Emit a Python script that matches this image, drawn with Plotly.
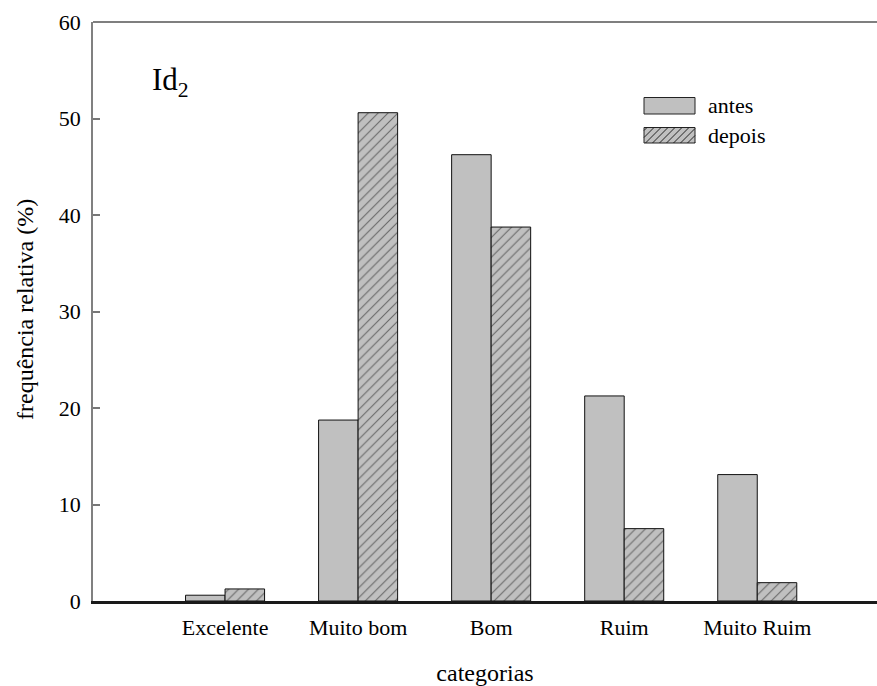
import plotly.graph_objects as go

# Relative frequency (%) per category, before and after
categorias = ["Excelente", "Muito bom", "Bom", "Ruim", "Muito Ruim"]
antes = [0.6, 18.75, 46.25, 21.25, 13.1]
depois = [1.25, 50.6, 38.75, 7.5, 1.9]
y_ticks = [0, 10, 20, 30, 40, 50, 60]

FONT = "Liberation Serif"
GRAY = "#c0c0c0"
W, H = 877, 686
ML, MR, MT, MB = 93, 0, 22, 85
PW, PH = W - ML - MR, H - MT - MB
TICK_SIZE = 22
TITLE_SIZE = 24

xpos = list(range(1, len(categorias) + 1))

fig = go.Figure()
fig.add_trace(go.Bar(
    x=xpos, y=antes, name="antes",
    marker=dict(color=GRAY, line=dict(color="#111", width=1)),
    showlegend=False,
))
fig.add_trace(go.Bar(
    x=xpos, y=depois, name="depois",
    marker=dict(color=GRAY, line=dict(color="#111", width=1),
                pattern=dict(shape="/", fgcolor="#111", bgcolor=GRAY,
                             size=7, solidity=0.16)),
    showlegend=False,
))


def px_to_paper(px, py):
    return (px - ML) / PW, (MT + PH - py) / PH


shapes = []
# top frame line
shapes.append(dict(type="line", xref="paper", yref="paper", x0=0, x1=1, y0=1, y1=1,
                   line=dict(color="#555", width=1.5)))

# legend swatches
def swatch(x0, y0, x1, y1, hatched):
    a = px_to_paper(x0, y1)
    b = px_to_paper(x1, y0)
    out = [dict(type="rect", xref="paper", yref="paper", x0=a[0], y0=a[1], x1=b[0], y1=b[1],
                fillcolor=GRAY, line=dict(color="#222", width=1))]
    if hatched:
        w, h = x1 - x0, y1 - y0
        step = 7
        c = -h + 3
        while c < w:
            u0, u1 = max(0, c), min(w, c + h)
            if u1 > u0:
                p0 = px_to_paper(x0 + u0, y1 - (u0 - c))
                p1 = px_to_paper(x0 + u1, y1 - (u1 - c))
                out.append(dict(type="line", xref="paper", yref="paper",
                                x0=p0[0], y0=p0[1], x1=p1[0], y1=p1[1],
                                line=dict(color="#111", width=0.9)))
            c += step
    return out

shapes += swatch(644, 97.5, 695, 114, False)
shapes += swatch(644, 127.5, 695, 143, True)

annotations = []
for label, cy in (("antes", 105.5), ("depois", 135.5)):
    px, py = px_to_paper(706, cy)
    annotations.append(dict(text=label, x=px, y=py, xref="paper", yref="paper",
                            xanchor="left", yanchor="middle", showarrow=False,
                            font=dict(family=FONT, size=TICK_SIZE, color="black")))

ix, iy = px_to_paper(150, 82)
annotations.append(dict(text="Id<sub>2</sub>", x=ix, y=iy, xref="paper", yref="paper",
                        xanchor="left", yanchor="middle", showarrow=False,
                        font=dict(family=FONT, size=31, color="black")))

# vertical axis title
tx, ty = px_to_paper(25, 310)
annotations.append(dict(text="frequência relativa (%)", x=tx, y=ty, xref="paper", yref="paper",
                        xanchor="center", yanchor="middle", textangle=-90, showarrow=False,
                        font=dict(family=FONT, size=TITLE_SIZE, color="black")))

fig.update_layout(
    width=W, height=H,
    margin=dict(l=ML, r=MR, t=MT, b=MB, pad=0),
    paper_bgcolor="white", plot_bgcolor="white",
    barmode="group", bargap=0.406, bargroupgap=0,
    font=dict(family=FONT, size=TICK_SIZE, color="black"),
    shapes=shapes, annotations=annotations,
    xaxis=dict(
        range=[0.0075, 5.9], tickmode="array", tickvals=xpos, ticktext=categorias,
        showgrid=False, zeroline=False, ticks="", showline=True,
        linecolor="#1a1a1a", linewidth=2.5, ticklabelstandoff=5,
        tickfont=dict(family=FONT, size=TICK_SIZE, color="black"),
        title=dict(text="categorias", font=dict(family=FONT, size=TITLE_SIZE, color="black"),
                   standoff=28),
    ),
    yaxis=dict(
        range=[0, 60], tickmode="array", tickvals=y_ticks,
        showgrid=False, zeroline=False, ticks="inside", ticklen=7, tickwidth=1.5,
        tickcolor="#777", showline=True, linecolor="#808080", linewidth=1.5,
        ticklabelstandoff=6,
        tickfont=dict(family=FONT, size=TICK_SIZE, color="black"),
    ),
)

fig.write_html("out.html")
